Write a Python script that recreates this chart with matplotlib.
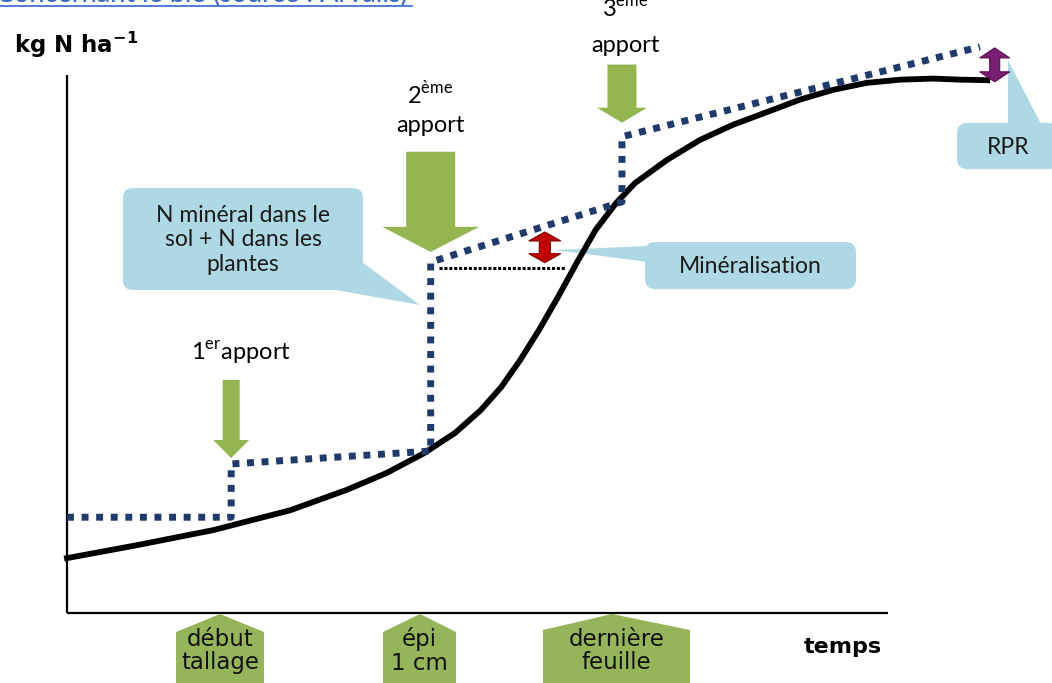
import matplotlib
matplotlib.use("Agg")
import matplotlib.pyplot as plt
from matplotlib.patches import FancyBboxPatch, Polygon, FancyArrow

# schematic units: temps 0-100 along the x axis, N 0-100 along the y axis
uptake_t = [0, 8.5, 17.8, 27.2, 34.1, 38.9, 43.5, 47.3, 50.4, 52.9, 55.2, 57.5,
            59.8, 62.1, 64.4, 66.9, 69.2, 73.1, 77.1, 81.1, 85.3, 89.3, 93.3,
            97.4, 101.5, 105.5, 108.8, 112.1]
uptake_n = [10.2, 12.6, 15.4, 19.1, 22.9, 26.0, 29.7, 33.5, 37.7, 42.0, 47.0, 52.6,
            58.7, 65.1, 71.2, 76.2, 79.9, 84.2, 87.9, 90.7, 93.1, 95.4, 97.2,
            98.5, 99.1, 99.3, 99.1, 99.0]

apport_t = [20.0, 44.3, 67.6]
supply_t = [0, 20.0, 20.0, 44.3, 44.3, 67.6, 67.6, 111.2]
supply_n = [17.8, 17.8, 27.7, 30.1, 65.2, 76.4, 88.5, 105.2]

apport_tail = [43.3, 85.7, 101.9]
apport_tip = [28.8, 67.1, 91.1]

minera_t = [45.3, 60.8]
minera_n = [64.1, 64.1]
minera_arrow = (58.2, 65.1, 70.8)
rpr_arrow = (113.0, 98.7, 105.0)

stages = ["début\ntallage", "épi\n1 cm", "dernière\nfeuille"]

green = "#93B650"
stage_green = "#94B55A"
navy = "#1F3A6B"
callout = "#AED9E4"
lab_font = "Lato"

fig = plt.figure(figsize=(10.52, 6.83), dpi=100)
deco = fig.add_axes([0, 0, 1, 1], zorder=0)
deco.set_xlim(0, 1052)
deco.set_ylim(683, 0)
deco.axis("off")

ax = fig.add_axes([0, 0, 1, 1], zorder=1)
ax.patch.set_visible(False)
ax.set_xlim(-8.16, 119.98)
ax.set_ylim(-13.0, 113.9)
ax.axis("off")

# axes lines
ax.plot([0, 0], [0, 100], color="black", lw=1.6, solid_capstyle="butt")
ax.plot([0, 100], [0, 0], color="black", lw=1.6, solid_capstyle="butt")

# curves
ax.plot(uptake_t, uptake_n, color="black", lw=4.2, solid_joinstyle="round", zorder=3)
ax.plot(supply_t, supply_n, color=navy, lw=5, linestyle=(0, (1, 1.1)),
        dash_capstyle="butt", zorder=4)
ax.plot(minera_t, minera_n, color="black", lw=2.2, linestyle=(0, (1, 0.6)), zorder=3)

# green apport arrows
shaft_w = [2.07, 5.97, 3.53]
head_w = [4.38, 11.8, 6.09]
head_l = [3.35, 4.65, 2.79]
for t, y0, y1, sw, hw, hl in zip(apport_t, apport_tail, apport_tip, shaft_w, head_w, head_l):
    ax.add_patch(FancyArrow(t, y0, 0, y1 - y0, width=sw, head_width=hw, head_length=hl,
                            length_includes_head=True, color=green, lw=0, zorder=2))


def double_arrow(x, y0, y1, shaft, head, hl, fc, ec):
    pts = [(x, y0), (x + head, y0 + hl), (x + shaft, y0 + hl), (x + shaft, y1 - hl),
           (x + head, y1 - hl), (x, y1), (x - head, y1 - hl), (x - shaft, y1 - hl),
           (x - shaft, y0 + hl), (x - head, y0 + hl)]
    ax.add_patch(Polygon(pts, closed=True, facecolor=fc, edgecolor=ec, lw=0.8, zorder=5))


double_arrow(minera_arrow[0], minera_arrow[1], minera_arrow[2], 0.67, 1.95, 1.67, "#C00000", "#7F0000")
double_arrow(rpr_arrow[0], rpr_arrow[1], rpr_arrow[2], 0.61, 1.83, 1.86, "#7A1E71", "#5A1050")

# apport labels
deco.text(241, 353, "1$^{\\mathregular{er}}$apport", ha="center", va="center",
          fontsize=17, family=lab_font)
deco.text(430, 94, "2$^{\\mathregular{ème}}$", ha="center", va="center", fontsize=17, family=lab_font)
deco.text(430, 126, "apport", ha="center", va="center", fontsize=17, family=lab_font)
deco.text(625, 7, "3$^{\\mathregular{ème}}$", ha="center", va="center", fontsize=17, family=lab_font)
deco.text(625, 45, "apport", ha="center", va="center", fontsize=17, family=lab_font)


# callouts
def callout_box(x0, y0, x1, y1, pointer, text, fs=16.5):
    deco.add_patch(FancyBboxPatch((x0, y0), x1 - x0, y1 - y0,
                                  boxstyle="round,pad=0,rounding_size=10",
                                  facecolor=callout, edgecolor="none"))
    deco.add_patch(Polygon(pointer, closed=True, facecolor=callout, edgecolor="none"))
    deco.text((x0 + x1) / 2, (y0 + y1) / 2 + 1, text, ha="center", va="center",
              fontsize=fs, family=lab_font, color="#1a1a1a", linespacing=1.22)


callout_box(123, 188, 363, 290, [(330, 289), (362, 262), (420, 305)],
            "N minéral dans le\nsol + N dans les\nplantes")
callout_box(645, 242, 856, 289, [(555, 250), (648, 246), (648, 262)], "Minéralisation")
callout_box(957, 123, 1060, 169, [(1008, 60), (1008, 126), (1042, 126)], "RPR")

# stage labels under the x axis
shapes = [(176, 264, 220, 632), (383, 456, 420, 632), (543, 690, 612, 630)]
for (x0, x1, xp, ys), lab in zip(shapes, stages):
    deco.add_patch(Polygon([(x0, 683), (x0, ys), (xp, 614), (x1, ys), (x1, 683)],
                           closed=True, facecolor=stage_green, edgecolor="none"))
    deco.text((x0 + x1) / 2, 651, lab, ha="center", va="center", fontsize=16.5,
              linespacing=1.05, color="#111111")

deco.text(843, 647, "temps", ha="center", va="center", fontsize=16, fontweight="bold")
deco.text(14, 45, "kg N ha$^{\\mathregular{-1}}$", ha="left", va="center", fontsize=16.5,
          fontweight="bold")

# cut-off link above the chart
deco.text(-4, 2, "Concernant le blé (source : Arvalis)", ha="left", va="baseline",
          fontsize=19.5, family=lab_font, color="#3366CC")
deco.plot([0, 412], [6, 6], color="#3366CC", lw=1.2)

fig.savefig("out.png", dpi=100)
